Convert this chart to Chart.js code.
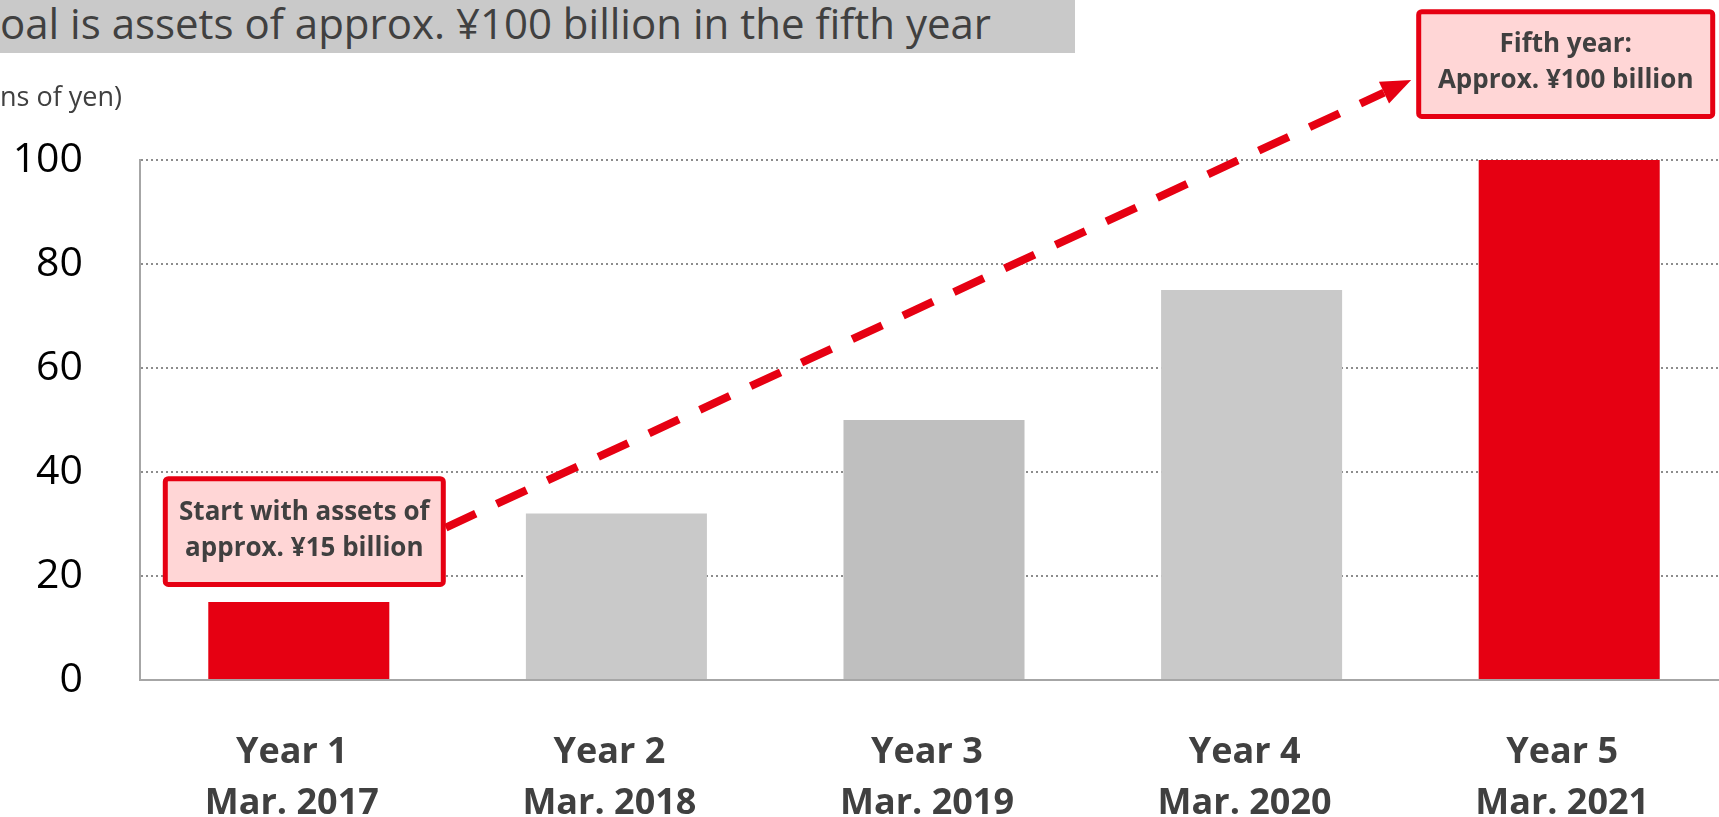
<!DOCTYPE html>
<html>
<head>
<meta charset="utf-8">
<script src="https://cdn.jsdelivr.net/npm/chart.js@4"></script>
<style>
    html, body { margin: 0; padding: 0; background: #fff; overflow: hidden; width: 1719px; height: 817px; }
    #wrap { position: relative; width: 1719px; height: 817px; overflow: hidden; }
    #c { position: absolute; left: 0; top: 0; display: block; }
    #title {
        position: absolute; left: 0; top: 0; width: 1075px; height: 53px;
        background: #c9c9c9; color: #404040; font: 42px "Open Sans", sans-serif;
        line-height: 46px; white-space: nowrap; overflow: hidden;
    }
    #unit {
        position: absolute; left: 0; top: 80px; color: #404040;
        font: 27px "Open Sans", sans-serif; line-height: 32px; white-space: nowrap;
    }
</style>
</head>
<body>
<div id="wrap">
    <canvas id="c" width="1728" height="817"></canvas>
    <div id="title">oal is assets of approx. ¥100 billion in the fifth year</div>
    <div id="unit">ns of yen)</div>
</div>
<script>
const years = ['Year 1', 'Year 2', 'Year 3', 'Year 4', 'Year 5'];
const fiscalEnds = ['Mar. 2017', 'Mar. 2018', 'Mar. 2019', 'Mar. 2020', 'Mar. 2021'];
const assets = [15, 32, 50, 75, 100];
const yTicks = [0, 20, 40, 60, 80, 100];
const startNote = ['Start with assets of', 'approx. ¥15 billion'];
const goalNote = ['Fifth year:', 'Approx. ¥100 billion'];

const RED = '#e60012';

// dibuja un recuadro rosa con borde rojo y dos líneas de texto
function noteBox(ctx, left, top, right, bottom, lines) {
    ctx.save();
    ctx.fillStyle = '#ffd6d6';
    ctx.strokeStyle = RED;
    ctx.lineWidth = 5;
    ctx.beginPath();
    ctx.roundRect(left + 2.5, top + 2.5, right - left - 5, bottom - top - 5, 3);
    ctx.fill();
    ctx.stroke();
    ctx.fillStyle = '#404040';
    ctx.font = 'bold 26px "Open Sans"';
    ctx.textAlign = 'center';
    ctx.textBaseline = 'middle';
    const cx = (left + right) / 2, cy = (top + bottom) / 2;
    ctx.fillText(lines[0], cx, cy - 19);
    ctx.fillText(lines[1], cx, cy + 17);
    ctx.restore();
}

const callouts = {
    id: 'callouts',
    afterDatasetsDraw(chart) {
        const { ctx, scales: { x, y } } = chart;
        // recuadro inicial junto a la barra del año 1
        const c1 = x.getPixelForValue(0) + 5;
        const b1 = { left: c1 - 141, right: c1 + 142, top: y.getPixelForValue(39.2), bottom: y.getPixelForValue(17.9) };
        // recuadro del objetivo sobre la barra del año 5
        const c5 = x.getPixelForValue(4) - 3;
        const b5 = { left: c5 - 150, right: c5 + 149, top: y.getPixelForValue(129), bottom: y.getPixelForValue(107.9) };

        // flecha discontinua
        const sx = b1.right, sy = (b1.top + b1.bottom) / 2 - 4;
        const tx = b5.left - 5, ty = (b5.top + b5.bottom) / 2 + 16;
        const len = Math.hypot(tx - sx, ty - sy);
        const ux = (tx - sx) / len, uy = (ty - sy) / len;
        const head = 30, half = 12;
        const bx = tx - ux * head, by = ty - uy * head;
        ctx.save();
        ctx.strokeStyle = RED;
        ctx.fillStyle = RED;
        ctx.lineWidth = 8;
        ctx.setLineDash([33, 23]);
        ctx.beginPath();
        ctx.moveTo(sx, sy);
        ctx.lineTo(bx, by);
        ctx.stroke();
        ctx.setLineDash([]);
        ctx.beginPath();
        ctx.moveTo(tx, ty);
        ctx.lineTo(bx - uy * half, by + ux * half);
        ctx.lineTo(bx + uy * half, by - ux * half);
        ctx.closePath();
        ctx.fill();
        ctx.restore();

        noteBox(ctx, b1.left, b1.top, b1.right, b1.bottom, startNote);
        noteBox(ctx, b5.left, b5.top, b5.right, b5.bottom, goalNote);
    }
};

new Chart(document.getElementById('c'), {
    type: 'bar',
    data: {
        labels: years.map((yr, i) => [yr, fiscalEnds[i]]),
        datasets: [{
            data: assets,
            backgroundColor: [RED, '#c9c9c9', '#bfbfbf', '#c9c9c9', RED],
            barPercentage: 0.57,
            categoryPercentage: 1
        }]
    },
    options: {
        responsive: false,
        animation: false,
        devicePixelRatio: 1,
        layout: { padding: { top: 160, right: 0, left: 0, bottom: 0 } },
        plugins: { legend: { display: false }, tooltip: { enabled: false } },
        scales: {
            x: {
                grid: { display: false, drawTicks: false },
                border: { display: true, color: '#a6a6a6', width: 2 },
                ticks: {
                    color: '#404040',
                    padding: 48,
                    labelOffset: -7,
                    font: { family: 'Open Sans', size: 36, weight: 'bold', lineHeight: 1.4 }
                },
                afterFit(scale) { scale.height = 137; }
            },
            y: {
                min: 0,
                max: 100,
                afterBuildTicks(scale) { scale.ticks = yTicks.map(v => ({ value: v })); },
                grid: {
                    drawTicks: false,
                    color: ctx => ctx.tick && ctx.tick.value === 0 ? 'rgba(0,0,0,0)' : '#8c8c8c',
                    lineWidth: 2
                },
                border: { display: true, color: '#a6a6a6', width: 2, dash: [2, 3] },
                ticks: {
                    color: '#000',
                    padding: 57,
                    font: { family: 'Open Sans', size: 41 }
                },
                afterFit(scale) { scale.width = 140; }
            }
        }
    },
    plugins: [callouts]
});
</script>
</body>
</html>
